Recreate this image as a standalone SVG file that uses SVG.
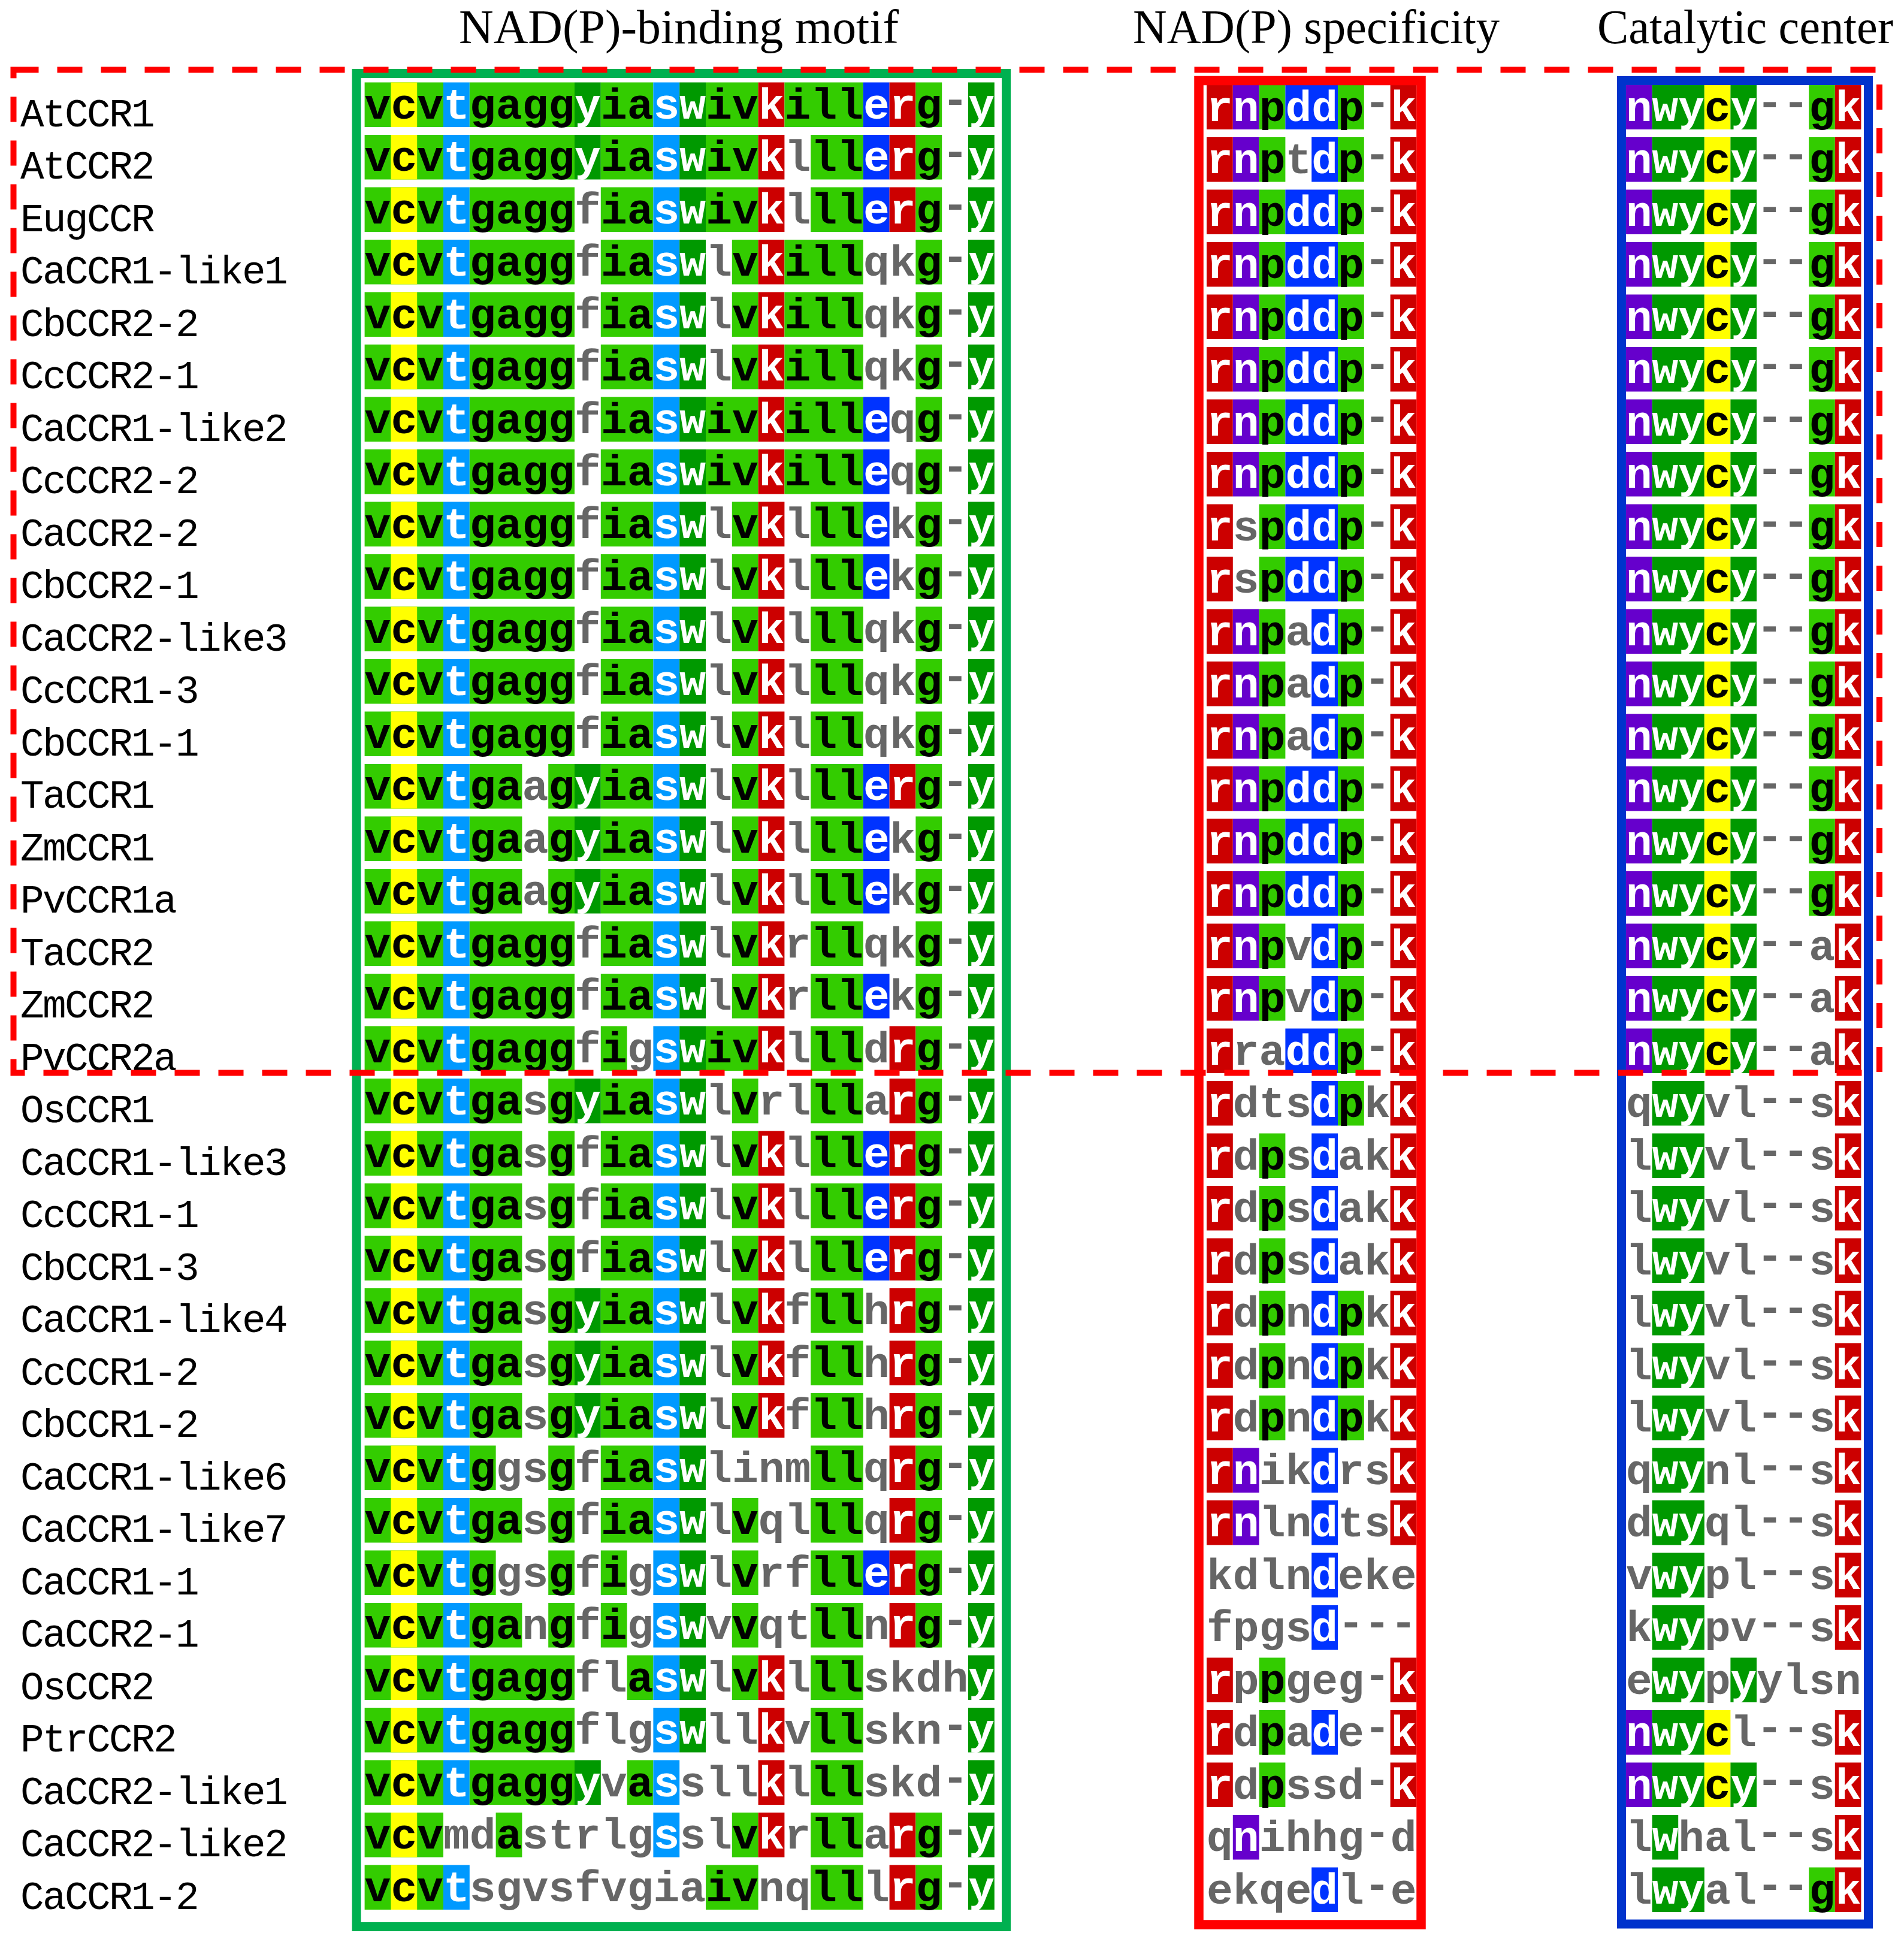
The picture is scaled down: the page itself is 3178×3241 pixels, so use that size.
<svg xmlns="http://www.w3.org/2000/svg" width="3178" height="3241" viewBox="0 0 3178 3241">
<style>
.L{fill:#33cc00}.D{fill:#009900}.Y{fill:#ffff00}.C{fill:#0099ff}.R{fill:#cc0000}.B{fill:#0033ff}.P{fill:#6600cc}
.s{font-family:"Liberation Mono",monospace;font-weight:bold;font-size:73px;fill:#666666}
.sb{font-family:"Liberation Mono",monospace;font-weight:bold;font-size:72.7px;fill:#666666}
.k{fill:#000000}.w{fill:#ffffff}.x{fill:#666666;baseline-shift:9px}
.nm{font-family:"Liberation Mono",monospace;font-size:66px;letter-spacing:-2.6px;fill:#000000}
.hd{font-family:"Liberation Serif",serif;font-size:80px;fill:#000000}
.box{fill:none}
</style>
<defs>
<!-- NAD(P)-binding motif patterns -->
<g id="g0"><g transform="scale(43.8,1)"><rect class="L" x="0" width="3" height="74.5"/><rect class="Y" x="1" width="1" height="74.5"/><rect class="C" x="3" width="1" height="74.5"/><rect class="L" x="4" width="4" height="74.5"/><rect class="D" x="8" width="1" height="74.5"/><rect class="L" x="9" width="2" height="74.5"/><rect class="C" x="11" width="1" height="74.5"/><rect class="D" x="12" width="1" height="74.5"/><rect class="L" x="13" width="2" height="74.5"/><rect class="R" x="15" width="1" height="74.5"/><rect class="L" x="16" width="3" height="74.5"/><rect class="B" x="19" width="1" height="74.5"/><rect class="R" x="20" width="1" height="74.5"/><rect class="L" x="21" width="1" height="74.5"/><rect class="D" x="23" width="1" height="74.5"/></g><text class="s" y="60"><tspan class="k">vcv</tspan><tspan class="w">t</tspan><tspan class="k">gagg</tspan><tspan class="w">y</tspan><tspan class="k">ia</tspan><tspan class="w">sw</tspan><tspan class="k">iv</tspan><tspan class="w">k</tspan><tspan class="k">ill</tspan><tspan class="w">er</tspan><tspan class="k">g</tspan><tspan class="x">-</tspan><tspan class="w">y</tspan></text></g>
<g id="g1"><g transform="scale(43.8,1)"><rect class="L" x="0" width="3" height="74.5"/><rect class="Y" x="1" width="1" height="74.5"/><rect class="C" x="3" width="1" height="74.5"/><rect class="L" x="4" width="4" height="74.5"/><rect class="D" x="8" width="1" height="74.5"/><rect class="L" x="9" width="2" height="74.5"/><rect class="C" x="11" width="1" height="74.5"/><rect class="D" x="12" width="1" height="74.5"/><rect class="L" x="13" width="2" height="74.5"/><rect class="R" x="15" width="1" height="74.5"/><rect class="L" x="17" width="2" height="74.5"/><rect class="B" x="19" width="1" height="74.5"/><rect class="R" x="20" width="1" height="74.5"/><rect class="L" x="21" width="1" height="74.5"/><rect class="D" x="23" width="1" height="74.5"/></g><text class="s" y="60"><tspan class="k">vcv</tspan><tspan class="w">t</tspan><tspan class="k">gagg</tspan><tspan class="w">y</tspan><tspan class="k">ia</tspan><tspan class="w">sw</tspan><tspan class="k">iv</tspan><tspan class="w">k</tspan>l<tspan class="k">ll</tspan><tspan class="w">er</tspan><tspan class="k">g</tspan><tspan class="x">-</tspan><tspan class="w">y</tspan></text></g>
<g id="g2"><g transform="scale(43.8,1)"><rect class="L" x="0" width="3" height="74.5"/><rect class="Y" x="1" width="1" height="74.5"/><rect class="C" x="3" width="1" height="74.5"/><rect class="L" x="4" width="4" height="74.5"/><rect class="L" x="9" width="2" height="74.5"/><rect class="C" x="11" width="1" height="74.5"/><rect class="D" x="12" width="1" height="74.5"/><rect class="L" x="13" width="2" height="74.5"/><rect class="R" x="15" width="1" height="74.5"/><rect class="L" x="17" width="2" height="74.5"/><rect class="B" x="19" width="1" height="74.5"/><rect class="R" x="20" width="1" height="74.5"/><rect class="L" x="21" width="1" height="74.5"/><rect class="D" x="23" width="1" height="74.5"/></g><text class="s" y="60"><tspan class="k">vcv</tspan><tspan class="w">t</tspan><tspan class="k">gagg</tspan>f<tspan class="k">ia</tspan><tspan class="w">sw</tspan><tspan class="k">iv</tspan><tspan class="w">k</tspan>l<tspan class="k">ll</tspan><tspan class="w">er</tspan><tspan class="k">g</tspan><tspan class="x">-</tspan><tspan class="w">y</tspan></text></g>
<g id="g3"><g transform="scale(43.8,1)"><rect class="L" x="0" width="3" height="74.5"/><rect class="Y" x="1" width="1" height="74.5"/><rect class="C" x="3" width="1" height="74.5"/><rect class="L" x="4" width="4" height="74.5"/><rect class="L" x="9" width="2" height="74.5"/><rect class="C" x="11" width="1" height="74.5"/><rect class="D" x="12" width="1" height="74.5"/><rect class="L" x="14" width="1" height="74.5"/><rect class="R" x="15" width="1" height="74.5"/><rect class="L" x="16" width="3" height="74.5"/><rect class="L" x="21" width="1" height="74.5"/><rect class="D" x="23" width="1" height="74.5"/></g><text class="s" y="60"><tspan class="k">vcv</tspan><tspan class="w">t</tspan><tspan class="k">gagg</tspan>f<tspan class="k">ia</tspan><tspan class="w">sw</tspan>l<tspan class="k">v</tspan><tspan class="w">k</tspan><tspan class="k">ill</tspan>qk<tspan class="k">g</tspan><tspan class="x">-</tspan><tspan class="w">y</tspan></text></g>
<g id="g6"><g transform="scale(43.8,1)"><rect class="L" x="0" width="3" height="74.5"/><rect class="Y" x="1" width="1" height="74.5"/><rect class="C" x="3" width="1" height="74.5"/><rect class="L" x="4" width="4" height="74.5"/><rect class="L" x="9" width="2" height="74.5"/><rect class="C" x="11" width="1" height="74.5"/><rect class="D" x="12" width="1" height="74.5"/><rect class="L" x="13" width="2" height="74.5"/><rect class="R" x="15" width="1" height="74.5"/><rect class="L" x="16" width="3" height="74.5"/><rect class="B" x="19" width="1" height="74.5"/><rect class="L" x="21" width="1" height="74.5"/><rect class="D" x="23" width="1" height="74.5"/></g><text class="s" y="60"><tspan class="k">vcv</tspan><tspan class="w">t</tspan><tspan class="k">gagg</tspan>f<tspan class="k">ia</tspan><tspan class="w">sw</tspan><tspan class="k">iv</tspan><tspan class="w">k</tspan><tspan class="k">ill</tspan><tspan class="w">e</tspan>q<tspan class="k">g</tspan><tspan class="x">-</tspan><tspan class="w">y</tspan></text></g>
<g id="g8"><g transform="scale(43.8,1)"><rect class="L" x="0" width="3" height="74.5"/><rect class="Y" x="1" width="1" height="74.5"/><rect class="C" x="3" width="1" height="74.5"/><rect class="L" x="4" width="4" height="74.5"/><rect class="L" x="9" width="2" height="74.5"/><rect class="C" x="11" width="1" height="74.5"/><rect class="D" x="12" width="1" height="74.5"/><rect class="L" x="14" width="1" height="74.5"/><rect class="R" x="15" width="1" height="74.5"/><rect class="L" x="17" width="2" height="74.5"/><rect class="B" x="19" width="1" height="74.5"/><rect class="L" x="21" width="1" height="74.5"/><rect class="D" x="23" width="1" height="74.5"/></g><text class="s" y="60"><tspan class="k">vcv</tspan><tspan class="w">t</tspan><tspan class="k">gagg</tspan>f<tspan class="k">ia</tspan><tspan class="w">sw</tspan>l<tspan class="k">v</tspan><tspan class="w">k</tspan>l<tspan class="k">ll</tspan><tspan class="w">e</tspan>k<tspan class="k">g</tspan><tspan class="x">-</tspan><tspan class="w">y</tspan></text></g>
<g id="g10"><g transform="scale(43.8,1)"><rect class="L" x="0" width="3" height="74.5"/><rect class="Y" x="1" width="1" height="74.5"/><rect class="C" x="3" width="1" height="74.5"/><rect class="L" x="4" width="4" height="74.5"/><rect class="L" x="9" width="2" height="74.5"/><rect class="C" x="11" width="1" height="74.5"/><rect class="D" x="12" width="1" height="74.5"/><rect class="L" x="14" width="1" height="74.5"/><rect class="R" x="15" width="1" height="74.5"/><rect class="L" x="17" width="2" height="74.5"/><rect class="L" x="21" width="1" height="74.5"/><rect class="D" x="23" width="1" height="74.5"/></g><text class="s" y="60"><tspan class="k">vcv</tspan><tspan class="w">t</tspan><tspan class="k">gagg</tspan>f<tspan class="k">ia</tspan><tspan class="w">sw</tspan>l<tspan class="k">v</tspan><tspan class="w">k</tspan>l<tspan class="k">ll</tspan>qk<tspan class="k">g</tspan><tspan class="x">-</tspan><tspan class="w">y</tspan></text></g>
<g id="g13"><g transform="scale(43.8,1)"><rect class="L" x="0" width="3" height="74.5"/><rect class="Y" x="1" width="1" height="74.5"/><rect class="C" x="3" width="1" height="74.5"/><rect class="L" x="4" width="2" height="74.5"/><rect class="L" x="7" width="1" height="74.5"/><rect class="D" x="8" width="1" height="74.5"/><rect class="L" x="9" width="2" height="74.5"/><rect class="C" x="11" width="1" height="74.5"/><rect class="D" x="12" width="1" height="74.5"/><rect class="L" x="14" width="1" height="74.5"/><rect class="R" x="15" width="1" height="74.5"/><rect class="L" x="17" width="2" height="74.5"/><rect class="B" x="19" width="1" height="74.5"/><rect class="R" x="20" width="1" height="74.5"/><rect class="L" x="21" width="1" height="74.5"/><rect class="D" x="23" width="1" height="74.5"/></g><text class="s" y="60"><tspan class="k">vcv</tspan><tspan class="w">t</tspan><tspan class="k">ga</tspan>a<tspan class="k">g</tspan><tspan class="w">y</tspan><tspan class="k">ia</tspan><tspan class="w">sw</tspan>l<tspan class="k">v</tspan><tspan class="w">k</tspan>l<tspan class="k">ll</tspan><tspan class="w">er</tspan><tspan class="k">g</tspan><tspan class="x">-</tspan><tspan class="w">y</tspan></text></g>
<g id="g14"><g transform="scale(43.8,1)"><rect class="L" x="0" width="3" height="74.5"/><rect class="Y" x="1" width="1" height="74.5"/><rect class="C" x="3" width="1" height="74.5"/><rect class="L" x="4" width="2" height="74.5"/><rect class="L" x="7" width="1" height="74.5"/><rect class="D" x="8" width="1" height="74.5"/><rect class="L" x="9" width="2" height="74.5"/><rect class="C" x="11" width="1" height="74.5"/><rect class="D" x="12" width="1" height="74.5"/><rect class="L" x="14" width="1" height="74.5"/><rect class="R" x="15" width="1" height="74.5"/><rect class="L" x="17" width="2" height="74.5"/><rect class="B" x="19" width="1" height="74.5"/><rect class="L" x="21" width="1" height="74.5"/><rect class="D" x="23" width="1" height="74.5"/></g><text class="s" y="60"><tspan class="k">vcv</tspan><tspan class="w">t</tspan><tspan class="k">ga</tspan>a<tspan class="k">g</tspan><tspan class="w">y</tspan><tspan class="k">ia</tspan><tspan class="w">sw</tspan>l<tspan class="k">v</tspan><tspan class="w">k</tspan>l<tspan class="k">ll</tspan><tspan class="w">e</tspan>k<tspan class="k">g</tspan><tspan class="x">-</tspan><tspan class="w">y</tspan></text></g>
<g id="g16"><g transform="scale(43.8,1)"><rect class="L" x="0" width="3" height="74.5"/><rect class="Y" x="1" width="1" height="74.5"/><rect class="C" x="3" width="1" height="74.5"/><rect class="L" x="4" width="4" height="74.5"/><rect class="L" x="9" width="2" height="74.5"/><rect class="C" x="11" width="1" height="74.5"/><rect class="D" x="12" width="1" height="74.5"/><rect class="L" x="14" width="1" height="74.5"/><rect class="R" x="15" width="1" height="74.5"/><rect class="L" x="17" width="2" height="74.5"/><rect class="L" x="21" width="1" height="74.5"/><rect class="D" x="23" width="1" height="74.5"/></g><text class="s" y="60"><tspan class="k">vcv</tspan><tspan class="w">t</tspan><tspan class="k">gagg</tspan>f<tspan class="k">ia</tspan><tspan class="w">sw</tspan>l<tspan class="k">v</tspan><tspan class="w">k</tspan>r<tspan class="k">ll</tspan>qk<tspan class="k">g</tspan><tspan class="x">-</tspan><tspan class="w">y</tspan></text></g>
<g id="g17"><g transform="scale(43.8,1)"><rect class="L" x="0" width="3" height="74.5"/><rect class="Y" x="1" width="1" height="74.5"/><rect class="C" x="3" width="1" height="74.5"/><rect class="L" x="4" width="4" height="74.5"/><rect class="L" x="9" width="2" height="74.5"/><rect class="C" x="11" width="1" height="74.5"/><rect class="D" x="12" width="1" height="74.5"/><rect class="L" x="14" width="1" height="74.5"/><rect class="R" x="15" width="1" height="74.5"/><rect class="L" x="17" width="2" height="74.5"/><rect class="B" x="19" width="1" height="74.5"/><rect class="L" x="21" width="1" height="74.5"/><rect class="D" x="23" width="1" height="74.5"/></g><text class="s" y="60"><tspan class="k">vcv</tspan><tspan class="w">t</tspan><tspan class="k">gagg</tspan>f<tspan class="k">ia</tspan><tspan class="w">sw</tspan>l<tspan class="k">v</tspan><tspan class="w">k</tspan>r<tspan class="k">ll</tspan><tspan class="w">e</tspan>k<tspan class="k">g</tspan><tspan class="x">-</tspan><tspan class="w">y</tspan></text></g>
<g id="g18"><g transform="scale(43.8,1)"><rect class="L" x="0" width="3" height="74.5"/><rect class="Y" x="1" width="1" height="74.5"/><rect class="C" x="3" width="1" height="74.5"/><rect class="L" x="4" width="4" height="74.5"/><rect class="L" x="9" width="1" height="74.5"/><rect class="C" x="11" width="1" height="74.5"/><rect class="D" x="12" width="1" height="74.5"/><rect class="L" x="13" width="2" height="74.5"/><rect class="R" x="15" width="1" height="74.5"/><rect class="L" x="17" width="2" height="74.5"/><rect class="R" x="20" width="1" height="74.5"/><rect class="L" x="21" width="1" height="74.5"/><rect class="D" x="23" width="1" height="74.5"/></g><text class="s" y="60"><tspan class="k">vcv</tspan><tspan class="w">t</tspan><tspan class="k">gagg</tspan>f<tspan class="k">i</tspan>g<tspan class="w">sw</tspan><tspan class="k">iv</tspan><tspan class="w">k</tspan>l<tspan class="k">ll</tspan>d<tspan class="w">r</tspan><tspan class="k">g</tspan><tspan class="x">-</tspan><tspan class="w">y</tspan></text></g>
<g id="g19"><g transform="scale(43.8,1)"><rect class="L" x="0" width="3" height="74.5"/><rect class="Y" x="1" width="1" height="74.5"/><rect class="C" x="3" width="1" height="74.5"/><rect class="L" x="4" width="2" height="74.5"/><rect class="L" x="7" width="1" height="74.5"/><rect class="D" x="8" width="1" height="74.5"/><rect class="L" x="9" width="2" height="74.5"/><rect class="C" x="11" width="1" height="74.5"/><rect class="D" x="12" width="1" height="74.5"/><rect class="L" x="14" width="1" height="74.5"/><rect class="L" x="17" width="2" height="74.5"/><rect class="R" x="20" width="1" height="74.5"/><rect class="L" x="21" width="1" height="74.5"/><rect class="D" x="23" width="1" height="74.5"/></g><text class="s" y="60"><tspan class="k">vcv</tspan><tspan class="w">t</tspan><tspan class="k">ga</tspan>s<tspan class="k">g</tspan><tspan class="w">y</tspan><tspan class="k">ia</tspan><tspan class="w">sw</tspan>l<tspan class="k">v</tspan>rl<tspan class="k">ll</tspan>a<tspan class="w">r</tspan><tspan class="k">g</tspan><tspan class="x">-</tspan><tspan class="w">y</tspan></text></g>
<g id="g20"><g transform="scale(43.8,1)"><rect class="L" x="0" width="3" height="74.5"/><rect class="Y" x="1" width="1" height="74.5"/><rect class="C" x="3" width="1" height="74.5"/><rect class="L" x="4" width="2" height="74.5"/><rect class="L" x="7" width="1" height="74.5"/><rect class="L" x="9" width="2" height="74.5"/><rect class="C" x="11" width="1" height="74.5"/><rect class="D" x="12" width="1" height="74.5"/><rect class="L" x="14" width="1" height="74.5"/><rect class="R" x="15" width="1" height="74.5"/><rect class="L" x="17" width="2" height="74.5"/><rect class="B" x="19" width="1" height="74.5"/><rect class="R" x="20" width="1" height="74.5"/><rect class="L" x="21" width="1" height="74.5"/><rect class="D" x="23" width="1" height="74.5"/></g><text class="s" y="60"><tspan class="k">vcv</tspan><tspan class="w">t</tspan><tspan class="k">ga</tspan>s<tspan class="k">g</tspan>f<tspan class="k">ia</tspan><tspan class="w">sw</tspan>l<tspan class="k">v</tspan><tspan class="w">k</tspan>l<tspan class="k">ll</tspan><tspan class="w">er</tspan><tspan class="k">g</tspan><tspan class="x">-</tspan><tspan class="w">y</tspan></text></g>
<g id="g23"><g transform="scale(43.8,1)"><rect class="L" x="0" width="3" height="74.5"/><rect class="Y" x="1" width="1" height="74.5"/><rect class="C" x="3" width="1" height="74.5"/><rect class="L" x="4" width="2" height="74.5"/><rect class="L" x="7" width="1" height="74.5"/><rect class="D" x="8" width="1" height="74.5"/><rect class="L" x="9" width="2" height="74.5"/><rect class="C" x="11" width="1" height="74.5"/><rect class="D" x="12" width="1" height="74.5"/><rect class="L" x="14" width="1" height="74.5"/><rect class="R" x="15" width="1" height="74.5"/><rect class="L" x="17" width="2" height="74.5"/><rect class="R" x="20" width="1" height="74.5"/><rect class="L" x="21" width="1" height="74.5"/><rect class="D" x="23" width="1" height="74.5"/></g><text class="s" y="60"><tspan class="k">vcv</tspan><tspan class="w">t</tspan><tspan class="k">ga</tspan>s<tspan class="k">g</tspan><tspan class="w">y</tspan><tspan class="k">ia</tspan><tspan class="w">sw</tspan>l<tspan class="k">v</tspan><tspan class="w">k</tspan>f<tspan class="k">ll</tspan>h<tspan class="w">r</tspan><tspan class="k">g</tspan><tspan class="x">-</tspan><tspan class="w">y</tspan></text></g>
<g id="g26"><g transform="scale(43.8,1)"><rect class="L" x="0" width="3" height="74.5"/><rect class="Y" x="1" width="1" height="74.5"/><rect class="C" x="3" width="1" height="74.5"/><rect class="L" x="4" width="1" height="74.5"/><rect class="L" x="7" width="1" height="74.5"/><rect class="L" x="9" width="2" height="74.5"/><rect class="C" x="11" width="1" height="74.5"/><rect class="D" x="12" width="1" height="74.5"/><rect class="L" x="17" width="2" height="74.5"/><rect class="R" x="20" width="1" height="74.5"/><rect class="L" x="21" width="1" height="74.5"/><rect class="D" x="23" width="1" height="74.5"/></g><text class="s" y="60"><tspan class="k">vcv</tspan><tspan class="w">t</tspan><tspan class="k">g</tspan>gs<tspan class="k">g</tspan>f<tspan class="k">ia</tspan><tspan class="w">sw</tspan>linm<tspan class="k">ll</tspan>q<tspan class="w">r</tspan><tspan class="k">g</tspan><tspan class="x">-</tspan><tspan class="w">y</tspan></text></g>
<g id="g27"><g transform="scale(43.8,1)"><rect class="L" x="0" width="3" height="74.5"/><rect class="Y" x="1" width="1" height="74.5"/><rect class="C" x="3" width="1" height="74.5"/><rect class="L" x="4" width="2" height="74.5"/><rect class="L" x="7" width="1" height="74.5"/><rect class="L" x="9" width="2" height="74.5"/><rect class="C" x="11" width="1" height="74.5"/><rect class="D" x="12" width="1" height="74.5"/><rect class="L" x="14" width="1" height="74.5"/><rect class="L" x="17" width="2" height="74.5"/><rect class="R" x="20" width="1" height="74.5"/><rect class="L" x="21" width="1" height="74.5"/><rect class="D" x="23" width="1" height="74.5"/></g><text class="s" y="60"><tspan class="k">vcv</tspan><tspan class="w">t</tspan><tspan class="k">ga</tspan>s<tspan class="k">g</tspan>f<tspan class="k">ia</tspan><tspan class="w">sw</tspan>l<tspan class="k">v</tspan>ql<tspan class="k">ll</tspan>q<tspan class="w">r</tspan><tspan class="k">g</tspan><tspan class="x">-</tspan><tspan class="w">y</tspan></text></g>
<g id="g28"><g transform="scale(43.8,1)"><rect class="L" x="0" width="3" height="74.5"/><rect class="Y" x="1" width="1" height="74.5"/><rect class="C" x="3" width="1" height="74.5"/><rect class="L" x="4" width="1" height="74.5"/><rect class="L" x="7" width="1" height="74.5"/><rect class="L" x="9" width="1" height="74.5"/><rect class="C" x="11" width="1" height="74.5"/><rect class="D" x="12" width="1" height="74.5"/><rect class="L" x="14" width="1" height="74.5"/><rect class="L" x="17" width="2" height="74.5"/><rect class="B" x="19" width="1" height="74.5"/><rect class="R" x="20" width="1" height="74.5"/><rect class="L" x="21" width="1" height="74.5"/><rect class="D" x="23" width="1" height="74.5"/></g><text class="s" y="60"><tspan class="k">vcv</tspan><tspan class="w">t</tspan><tspan class="k">g</tspan>gs<tspan class="k">g</tspan>f<tspan class="k">i</tspan>g<tspan class="w">sw</tspan>l<tspan class="k">v</tspan>rf<tspan class="k">ll</tspan><tspan class="w">er</tspan><tspan class="k">g</tspan><tspan class="x">-</tspan><tspan class="w">y</tspan></text></g>
<g id="g29"><g transform="scale(43.8,1)"><rect class="L" x="0" width="3" height="74.5"/><rect class="Y" x="1" width="1" height="74.5"/><rect class="C" x="3" width="1" height="74.5"/><rect class="L" x="4" width="2" height="74.5"/><rect class="L" x="7" width="1" height="74.5"/><rect class="L" x="9" width="1" height="74.5"/><rect class="C" x="11" width="1" height="74.5"/><rect class="D" x="12" width="1" height="74.5"/><rect class="L" x="14" width="1" height="74.5"/><rect class="L" x="17" width="2" height="74.5"/><rect class="R" x="20" width="1" height="74.5"/><rect class="L" x="21" width="1" height="74.5"/><rect class="D" x="23" width="1" height="74.5"/></g><text class="s" y="60"><tspan class="k">vcv</tspan><tspan class="w">t</tspan><tspan class="k">ga</tspan>n<tspan class="k">g</tspan>f<tspan class="k">i</tspan>g<tspan class="w">sw</tspan>v<tspan class="k">v</tspan>qt<tspan class="k">ll</tspan>n<tspan class="w">r</tspan><tspan class="k">g</tspan><tspan class="x">-</tspan><tspan class="w">y</tspan></text></g>
<g id="g30"><g transform="scale(43.8,1)"><rect class="L" x="0" width="3" height="74.5"/><rect class="Y" x="1" width="1" height="74.5"/><rect class="C" x="3" width="1" height="74.5"/><rect class="L" x="4" width="4" height="74.5"/><rect class="L" x="10" width="1" height="74.5"/><rect class="C" x="11" width="1" height="74.5"/><rect class="D" x="12" width="1" height="74.5"/><rect class="L" x="14" width="1" height="74.5"/><rect class="R" x="15" width="1" height="74.5"/><rect class="L" x="17" width="2" height="74.5"/><rect class="D" x="23" width="1" height="74.5"/></g><text class="s" y="60"><tspan class="k">vcv</tspan><tspan class="w">t</tspan><tspan class="k">gagg</tspan>fl<tspan class="k">a</tspan><tspan class="w">sw</tspan>l<tspan class="k">v</tspan><tspan class="w">k</tspan>l<tspan class="k">ll</tspan>skdh<tspan class="w">y</tspan></text></g>
<g id="g31"><g transform="scale(43.8,1)"><rect class="L" x="0" width="3" height="74.5"/><rect class="Y" x="1" width="1" height="74.5"/><rect class="C" x="3" width="1" height="74.5"/><rect class="L" x="4" width="4" height="74.5"/><rect class="C" x="11" width="1" height="74.5"/><rect class="D" x="12" width="1" height="74.5"/><rect class="R" x="15" width="1" height="74.5"/><rect class="L" x="17" width="2" height="74.5"/><rect class="D" x="23" width="1" height="74.5"/></g><text class="s" y="60"><tspan class="k">vcv</tspan><tspan class="w">t</tspan><tspan class="k">gagg</tspan>flg<tspan class="w">sw</tspan>ll<tspan class="w">k</tspan>v<tspan class="k">ll</tspan>skn<tspan class="x">-</tspan><tspan class="w">y</tspan></text></g>
<g id="g32"><g transform="scale(43.8,1)"><rect class="L" x="0" width="3" height="74.5"/><rect class="Y" x="1" width="1" height="74.5"/><rect class="C" x="3" width="1" height="74.5"/><rect class="L" x="4" width="4" height="74.5"/><rect class="D" x="8" width="1" height="74.5"/><rect class="L" x="10" width="1" height="74.5"/><rect class="C" x="11" width="1" height="74.5"/><rect class="R" x="15" width="1" height="74.5"/><rect class="L" x="17" width="2" height="74.5"/><rect class="D" x="23" width="1" height="74.5"/></g><text class="s" y="60"><tspan class="k">vcv</tspan><tspan class="w">t</tspan><tspan class="k">gagg</tspan><tspan class="w">y</tspan>v<tspan class="k">a</tspan><tspan class="w">s</tspan>sll<tspan class="w">k</tspan>l<tspan class="k">ll</tspan>skd<tspan class="x">-</tspan><tspan class="w">y</tspan></text></g>
<g id="g33"><g transform="scale(43.8,1)"><rect class="L" x="0" width="3" height="74.5"/><rect class="Y" x="1" width="1" height="74.5"/><rect class="L" x="5" width="1" height="74.5"/><rect class="C" x="11" width="1" height="74.5"/><rect class="L" x="14" width="1" height="74.5"/><rect class="R" x="15" width="1" height="74.5"/><rect class="L" x="17" width="2" height="74.5"/><rect class="R" x="20" width="1" height="74.5"/><rect class="L" x="21" width="1" height="74.5"/><rect class="D" x="23" width="1" height="74.5"/></g><text class="s" y="60"><tspan class="k">vcv</tspan>md<tspan class="k">a</tspan>strlg<tspan class="w">s</tspan>sl<tspan class="k">v</tspan><tspan class="w">k</tspan>r<tspan class="k">ll</tspan>a<tspan class="w">r</tspan><tspan class="k">g</tspan><tspan class="x">-</tspan><tspan class="w">y</tspan></text></g>
<g id="g34"><g transform="scale(43.8,1)"><rect class="L" x="0" width="3" height="74.5"/><rect class="Y" x="1" width="1" height="74.5"/><rect class="C" x="3" width="1" height="74.5"/><rect class="L" x="13" width="2" height="74.5"/><rect class="L" x="17" width="2" height="74.5"/><rect class="R" x="20" width="1" height="74.5"/><rect class="L" x="21" width="1" height="74.5"/><rect class="D" x="23" width="1" height="74.5"/></g><text class="s" y="60"><tspan class="k">vcv</tspan><tspan class="w">t</tspan>sgvsfvgia<tspan class="k">iv</tspan>nq<tspan class="k">ll</tspan>l<tspan class="w">r</tspan><tspan class="k">g</tspan><tspan class="x">-</tspan><tspan class="w">y</tspan></text></g>
<!-- NAD(P) specificity patterns -->
<g id="r0"><g transform="scale(43.8,1)"><rect class="R" x="0" width="1" height="74.5"/><rect class="P" x="1" width="1" height="74.5"/><rect class="L" x="2" width="1" height="74.5"/><rect class="B" x="3" width="2" height="74.5"/><rect class="L" x="5" width="1" height="74.5"/><rect class="R" x="7" width="1" height="74.5"/></g><text class="s" y="60"><tspan class="w">rn</tspan><tspan class="k">p</tspan><tspan class="w">dd</tspan><tspan class="k">p</tspan><tspan class="x">-</tspan><tspan class="w">k</tspan></text></g>
<g id="r1"><g transform="scale(43.8,1)"><rect class="R" x="0" width="1" height="74.5"/><rect class="P" x="1" width="1" height="74.5"/><rect class="L" x="2" width="1" height="74.5"/><rect class="B" x="4" width="1" height="74.5"/><rect class="L" x="5" width="1" height="74.5"/><rect class="R" x="7" width="1" height="74.5"/></g><text class="s" y="60"><tspan class="w">rn</tspan><tspan class="k">p</tspan>t<tspan class="w">d</tspan><tspan class="k">p</tspan><tspan class="x">-</tspan><tspan class="w">k</tspan></text></g>
<g id="r8"><g transform="scale(43.8,1)"><rect class="R" x="0" width="1" height="74.5"/><rect class="L" x="2" width="1" height="74.5"/><rect class="B" x="3" width="2" height="74.5"/><rect class="L" x="5" width="1" height="74.5"/><rect class="R" x="7" width="1" height="74.5"/></g><text class="s" y="60"><tspan class="w">r</tspan>s<tspan class="k">p</tspan><tspan class="w">dd</tspan><tspan class="k">p</tspan><tspan class="x">-</tspan><tspan class="w">k</tspan></text></g>
<g id="r10"><g transform="scale(43.8,1)"><rect class="R" x="0" width="1" height="74.5"/><rect class="P" x="1" width="1" height="74.5"/><rect class="L" x="2" width="1" height="74.5"/><rect class="B" x="4" width="1" height="74.5"/><rect class="L" x="5" width="1" height="74.5"/><rect class="R" x="7" width="1" height="74.5"/></g><text class="s" y="60"><tspan class="w">rn</tspan><tspan class="k">p</tspan>a<tspan class="w">d</tspan><tspan class="k">p</tspan><tspan class="x">-</tspan><tspan class="w">k</tspan></text></g>
<g id="r16"><g transform="scale(43.8,1)"><rect class="R" x="0" width="1" height="74.5"/><rect class="P" x="1" width="1" height="74.5"/><rect class="L" x="2" width="1" height="74.5"/><rect class="B" x="4" width="1" height="74.5"/><rect class="L" x="5" width="1" height="74.5"/><rect class="R" x="7" width="1" height="74.5"/></g><text class="s" y="60"><tspan class="w">rn</tspan><tspan class="k">p</tspan>v<tspan class="w">d</tspan><tspan class="k">p</tspan><tspan class="x">-</tspan><tspan class="w">k</tspan></text></g>
<g id="r18"><g transform="scale(43.8,1)"><rect class="R" x="0" width="1" height="74.5"/><rect class="B" x="3" width="2" height="74.5"/><rect class="L" x="5" width="1" height="74.5"/><rect class="R" x="7" width="1" height="74.5"/></g><text class="s" y="60"><tspan class="w">r</tspan>ra<tspan class="w">dd</tspan><tspan class="k">p</tspan><tspan class="x">-</tspan><tspan class="w">k</tspan></text></g>
<g id="r19"><g transform="scale(43.8,1)"><rect class="R" x="0" width="1" height="74.5"/><rect class="B" x="4" width="1" height="74.5"/><rect class="L" x="5" width="1" height="74.5"/><rect class="R" x="7" width="1" height="74.5"/></g><text class="s" y="60"><tspan class="w">r</tspan>dts<tspan class="w">d</tspan><tspan class="k">p</tspan>k<tspan class="w">k</tspan></text></g>
<g id="r20"><g transform="scale(43.8,1)"><rect class="R" x="0" width="1" height="74.5"/><rect class="L" x="2" width="1" height="74.5"/><rect class="B" x="4" width="1" height="74.5"/><rect class="R" x="7" width="1" height="74.5"/></g><text class="s" y="60"><tspan class="w">r</tspan>d<tspan class="k">p</tspan>s<tspan class="w">d</tspan>ak<tspan class="w">k</tspan></text></g>
<g id="r23"><g transform="scale(43.8,1)"><rect class="R" x="0" width="1" height="74.5"/><rect class="L" x="2" width="1" height="74.5"/><rect class="B" x="4" width="1" height="74.5"/><rect class="L" x="5" width="1" height="74.5"/><rect class="R" x="7" width="1" height="74.5"/></g><text class="s" y="60"><tspan class="w">r</tspan>d<tspan class="k">p</tspan>n<tspan class="w">d</tspan><tspan class="k">p</tspan>k<tspan class="w">k</tspan></text></g>
<g id="r26"><g transform="scale(43.8,1)"><rect class="R" x="0" width="1" height="74.5"/><rect class="P" x="1" width="1" height="74.5"/><rect class="B" x="4" width="1" height="74.5"/><rect class="R" x="7" width="1" height="74.5"/></g><text class="s" y="60"><tspan class="w">rn</tspan>ik<tspan class="w">d</tspan>rs<tspan class="w">k</tspan></text></g>
<g id="r27"><g transform="scale(43.8,1)"><rect class="R" x="0" width="1" height="74.5"/><rect class="P" x="1" width="1" height="74.5"/><rect class="B" x="4" width="1" height="74.5"/><rect class="R" x="7" width="1" height="74.5"/></g><text class="s" y="60"><tspan class="w">rn</tspan>ln<tspan class="w">d</tspan>ts<tspan class="w">k</tspan></text></g>
<g id="r28"><rect class="B" x="175.2" width="43.8" height="74.5"/><text class="s" y="60">kdln<tspan class="w">d</tspan>eke</text></g>
<g id="r29"><rect class="B" x="175.2" width="43.8" height="74.5"/><text class="s" y="60">fpgs<tspan class="w">d</tspan><tspan class="x">---</tspan></text></g>
<g id="r30"><g transform="scale(43.8,1)"><rect class="R" x="0" width="1" height="74.5"/><rect class="L" x="2" width="1" height="74.5"/><rect class="R" x="7" width="1" height="74.5"/></g><text class="s" y="60"><tspan class="w">r</tspan>p<tspan class="k">p</tspan>geg<tspan class="x">-</tspan><tspan class="w">k</tspan></text></g>
<g id="r31"><g transform="scale(43.8,1)"><rect class="R" x="0" width="1" height="74.5"/><rect class="L" x="2" width="1" height="74.5"/><rect class="B" x="4" width="1" height="74.5"/><rect class="R" x="7" width="1" height="74.5"/></g><text class="s" y="60"><tspan class="w">r</tspan>d<tspan class="k">p</tspan>a<tspan class="w">d</tspan>e<tspan class="x">-</tspan><tspan class="w">k</tspan></text></g>
<g id="r32"><g transform="scale(43.8,1)"><rect class="R" x="0" width="1" height="74.5"/><rect class="L" x="2" width="1" height="74.5"/><rect class="R" x="7" width="1" height="74.5"/></g><text class="s" y="60"><tspan class="w">r</tspan>d<tspan class="k">p</tspan>ssd<tspan class="x">-</tspan><tspan class="w">k</tspan></text></g>
<g id="r33"><rect class="P" x="43.8" width="43.8" height="74.5"/><text class="s" y="60">q<tspan class="w">n</tspan>ihhg<tspan class="x">-</tspan>d</text></g>
<g id="r34"><rect class="B" x="175.2" width="43.8" height="74.5"/><text class="s" y="60">ekqe<tspan class="w">d</tspan>l<tspan class="x">-</tspan>e</text></g>
<!-- Catalytic center patterns -->
<g id="b0"><g transform="scale(43.6,1)"><rect class="P" x="0" width="1" height="74.5"/><rect class="D" x="1" width="2" height="74.5"/><rect class="Y" x="3" width="1" height="74.5"/><rect class="D" x="4" width="1" height="74.5"/><rect class="L" x="7" width="1" height="74.5"/><rect class="R" x="8" width="1" height="74.5"/></g><text class="sb" y="60"><tspan class="w">nwy</tspan><tspan class="k">c</tspan><tspan class="w">y</tspan><tspan class="x">--</tspan><tspan class="k">g</tspan><tspan class="w">k</tspan></text></g>
<g id="b16"><g transform="scale(43.6,1)"><rect class="P" x="0" width="1" height="74.5"/><rect class="D" x="1" width="2" height="74.5"/><rect class="Y" x="3" width="1" height="74.5"/><rect class="D" x="4" width="1" height="74.5"/><rect class="R" x="8" width="1" height="74.5"/></g><text class="sb" y="60"><tspan class="w">nwy</tspan><tspan class="k">c</tspan><tspan class="w">y</tspan><tspan class="x">--</tspan>a<tspan class="w">k</tspan></text></g>
<g id="b19"><g transform="scale(43.6,1)"><rect class="D" x="1" width="2" height="74.5"/><rect class="R" x="8" width="1" height="74.5"/></g><text class="sb" y="60">q<tspan class="w">wy</tspan>vl<tspan class="x">--</tspan>s<tspan class="w">k</tspan></text></g>
<g id="b20"><g transform="scale(43.6,1)"><rect class="D" x="1" width="2" height="74.5"/><rect class="R" x="8" width="1" height="74.5"/></g><text class="sb" y="60">l<tspan class="w">wy</tspan>vl<tspan class="x">--</tspan>s<tspan class="w">k</tspan></text></g>
<g id="b26"><g transform="scale(43.6,1)"><rect class="D" x="1" width="2" height="74.5"/><rect class="R" x="8" width="1" height="74.5"/></g><text class="sb" y="60">q<tspan class="w">wy</tspan>nl<tspan class="x">--</tspan>s<tspan class="w">k</tspan></text></g>
<g id="b27"><g transform="scale(43.6,1)"><rect class="D" x="1" width="2" height="74.5"/><rect class="R" x="8" width="1" height="74.5"/></g><text class="sb" y="60">d<tspan class="w">wy</tspan>ql<tspan class="x">--</tspan>s<tspan class="w">k</tspan></text></g>
<g id="b28"><g transform="scale(43.6,1)"><rect class="D" x="1" width="2" height="74.5"/><rect class="R" x="8" width="1" height="74.5"/></g><text class="sb" y="60">v<tspan class="w">wy</tspan>pl<tspan class="x">--</tspan>s<tspan class="w">k</tspan></text></g>
<g id="b29"><g transform="scale(43.6,1)"><rect class="D" x="1" width="2" height="74.5"/><rect class="R" x="8" width="1" height="74.5"/></g><text class="sb" y="60">k<tspan class="w">wy</tspan>pv<tspan class="x">--</tspan>s<tspan class="w">k</tspan></text></g>
<g id="b30"><g transform="scale(43.6,1)"><rect class="D" x="1" width="2" height="74.5"/><rect class="D" x="4" width="1" height="74.5"/></g><text class="sb" y="60">e<tspan class="w">wy</tspan>p<tspan class="w">y</tspan>ylsn</text></g>
<g id="b31"><g transform="scale(43.6,1)"><rect class="P" x="0" width="1" height="74.5"/><rect class="D" x="1" width="2" height="74.5"/><rect class="Y" x="3" width="1" height="74.5"/><rect class="R" x="8" width="1" height="74.5"/></g><text class="sb" y="60"><tspan class="w">nwy</tspan><tspan class="k">c</tspan>l<tspan class="x">--</tspan>s<tspan class="w">k</tspan></text></g>
<g id="b32"><g transform="scale(43.6,1)"><rect class="P" x="0" width="1" height="74.5"/><rect class="D" x="1" width="2" height="74.5"/><rect class="Y" x="3" width="1" height="74.5"/><rect class="D" x="4" width="1" height="74.5"/><rect class="R" x="8" width="1" height="74.5"/></g><text class="sb" y="60"><tspan class="w">nwy</tspan><tspan class="k">c</tspan><tspan class="w">y</tspan><tspan class="x">--</tspan>s<tspan class="w">k</tspan></text></g>
<g id="b33"><g transform="scale(43.6,1)"><rect class="D" x="1" width="1" height="74.5"/><rect class="R" x="8" width="1" height="74.5"/></g><text class="sb" y="60">l<tspan class="w">w</tspan>hal<tspan class="x">--</tspan>s<tspan class="w">k</tspan></text></g>
<g id="b34"><g transform="scale(43.6,1)"><rect class="D" x="1" width="2" height="74.5"/><rect class="L" x="7" width="1" height="74.5"/><rect class="R" x="8" width="1" height="74.5"/></g><text class="sb" y="60">l<tspan class="w">wy</tspan>al<tspan class="x">--</tspan><tspan class="k">g</tspan><tspan class="w">k</tspan></text></g>
</defs>

<g id="headers">
<text class="hd" x="766" y="72" textLength="734" lengthAdjust="spacingAndGlyphs">NAD(P)-binding motif</text>
<text class="hd" x="1891" y="72" textLength="612" lengthAdjust="spacingAndGlyphs">NAD(P) specificity</text>
<text class="hd" x="2666" y="72" textLength="494" lengthAdjust="spacingAndGlyphs">Catalytic center</text>
</g>

<g id="rows">
<g id="row-AtCCR1"><text class="nm" x="34" y="210.5">AtCCR1</text><use href="#g0" x="608.6" y="137.5"/><use href="#r0" x="2014" y="141.5"/><use href="#b0" x="2714" y="141.5"/></g>
<g id="row-AtCCR2"><text class="nm" x="34" y="298">AtCCR2</text><use href="#g1" x="608.6" y="225"/><use href="#r1" x="2014" y="229"/><use href="#b0" x="2714" y="229"/></g>
<g id="row-EugCCR"><text class="nm" x="34" y="385.5">EugCCR</text><use href="#g2" x="608.6" y="312.5"/><use href="#r0" x="2014" y="316.5"/><use href="#b0" x="2714" y="316.5"/></g>
<g id="row-CaCCR1-like1"><text class="nm" x="34" y="473">CaCCR1-like1</text><use href="#g3" x="608.6" y="400"/><use href="#r0" x="2014" y="404"/><use href="#b0" x="2714" y="404"/></g>
<g id="row-CbCCR2-2"><text class="nm" x="34" y="560.5">CbCCR2-2</text><use href="#g3" x="608.6" y="487.5"/><use href="#r0" x="2014" y="491.5"/><use href="#b0" x="2714" y="491.5"/></g>
<g id="row-CcCCR2-1"><text class="nm" x="34" y="648">CcCCR2-1</text><use href="#g3" x="608.6" y="575"/><use href="#r0" x="2014" y="579"/><use href="#b0" x="2714" y="579"/></g>
<g id="row-CaCCR1-like2"><text class="nm" x="34" y="735.5">CaCCR1-like2</text><use href="#g6" x="608.6" y="662.5"/><use href="#r0" x="2014" y="666.5"/><use href="#b0" x="2714" y="666.5"/></g>
<g id="row-CcCCR2-2"><text class="nm" x="34" y="823">CcCCR2-2</text><use href="#g6" x="608.6" y="750"/><use href="#r0" x="2014" y="754"/><use href="#b0" x="2714" y="754"/></g>
<g id="row-CaCCR2-2"><text class="nm" x="34" y="910.5">CaCCR2-2</text><use href="#g8" x="608.6" y="837.5"/><use href="#r8" x="2014" y="841.5"/><use href="#b0" x="2714" y="841.5"/></g>
<g id="row-CbCCR2-1"><text class="nm" x="34" y="998">CbCCR2-1</text><use href="#g8" x="608.6" y="925"/><use href="#r8" x="2014" y="929"/><use href="#b0" x="2714" y="929"/></g>
<g id="row-CaCCR2-like3"><text class="nm" x="34" y="1085.5">CaCCR2-like3</text><use href="#g10" x="608.6" y="1012.5"/><use href="#r10" x="2014" y="1016.5"/><use href="#b0" x="2714" y="1016.5"/></g>
<g id="row-CcCCR1-3"><text class="nm" x="34" y="1173">CcCCR1-3</text><use href="#g10" x="608.6" y="1100"/><use href="#r10" x="2014" y="1104"/><use href="#b0" x="2714" y="1104"/></g>
<g id="row-CbCCR1-1"><text class="nm" x="34" y="1260.5">CbCCR1-1</text><use href="#g10" x="608.6" y="1187.5"/><use href="#r10" x="2014" y="1191.5"/><use href="#b0" x="2714" y="1191.5"/></g>
<g id="row-TaCCR1"><text class="nm" x="34" y="1348">TaCCR1</text><use href="#g13" x="608.6" y="1275"/><use href="#r0" x="2014" y="1279"/><use href="#b0" x="2714" y="1279"/></g>
<g id="row-ZmCCR1"><text class="nm" x="34" y="1435.5">ZmCCR1</text><use href="#g14" x="608.6" y="1362.5"/><use href="#r0" x="2014" y="1366.5"/><use href="#b0" x="2714" y="1366.5"/></g>
<g id="row-PvCCR1a"><text class="nm" x="34" y="1523">PvCCR1a</text><use href="#g14" x="608.6" y="1450"/><use href="#r0" x="2014" y="1454"/><use href="#b0" x="2714" y="1454"/></g>
<g id="row-TaCCR2"><text class="nm" x="34" y="1610.5">TaCCR2</text><use href="#g16" x="608.6" y="1537.5"/><use href="#r16" x="2014" y="1541.5"/><use href="#b16" x="2714" y="1541.5"/></g>
<g id="row-ZmCCR2"><text class="nm" x="34" y="1698">ZmCCR2</text><use href="#g17" x="608.6" y="1625"/><use href="#r16" x="2014" y="1629"/><use href="#b16" x="2714" y="1629"/></g>
<g id="row-PvCCR2a"><text class="nm" x="34" y="1785.5">PvCCR2a</text><use href="#g18" x="608.6" y="1712.5"/><use href="#r18" x="2014" y="1716.5"/><use href="#b16" x="2714" y="1716.5"/></g>
<g id="row-OsCCR1"><text class="nm" x="34" y="1873">OsCCR1</text><use href="#g19" x="608.6" y="1800"/><use href="#r19" x="2014" y="1804"/><use href="#b19" x="2714" y="1804"/></g>
<g id="row-CaCCR1-like3"><text class="nm" x="34" y="1960.5">CaCCR1-like3</text><use href="#g20" x="608.6" y="1887.5"/><use href="#r20" x="2014" y="1891.5"/><use href="#b20" x="2714" y="1891.5"/></g>
<g id="row-CcCCR1-1"><text class="nm" x="34" y="2048">CcCCR1-1</text><use href="#g20" x="608.6" y="1975"/><use href="#r20" x="2014" y="1979"/><use href="#b20" x="2714" y="1979"/></g>
<g id="row-CbCCR1-3"><text class="nm" x="34" y="2135.5">CbCCR1-3</text><use href="#g20" x="608.6" y="2062.5"/><use href="#r20" x="2014" y="2066.5"/><use href="#b20" x="2714" y="2066.5"/></g>
<g id="row-CaCCR1-like4"><text class="nm" x="34" y="2223">CaCCR1-like4</text><use href="#g23" x="608.6" y="2150"/><use href="#r23" x="2014" y="2154"/><use href="#b20" x="2714" y="2154"/></g>
<g id="row-CcCCR1-2"><text class="nm" x="34" y="2310.5">CcCCR1-2</text><use href="#g23" x="608.6" y="2237.5"/><use href="#r23" x="2014" y="2241.5"/><use href="#b20" x="2714" y="2241.5"/></g>
<g id="row-CbCCR1-2"><text class="nm" x="34" y="2398">CbCCR1-2</text><use href="#g23" x="608.6" y="2325"/><use href="#r23" x="2014" y="2329"/><use href="#b20" x="2714" y="2329"/></g>
<g id="row-CaCCR1-like6"><text class="nm" x="34" y="2485.5">CaCCR1-like6</text><use href="#g26" x="608.6" y="2412.5"/><use href="#r26" x="2014" y="2416.5"/><use href="#b26" x="2714" y="2416.5"/></g>
<g id="row-CaCCR1-like7"><text class="nm" x="34" y="2573">CaCCR1-like7</text><use href="#g27" x="608.6" y="2500"/><use href="#r27" x="2014" y="2504"/><use href="#b27" x="2714" y="2504"/></g>
<g id="row-CaCCR1-1"><text class="nm" x="34" y="2660.5">CaCCR1-1</text><use href="#g28" x="608.6" y="2587.5"/><use href="#r28" x="2014" y="2591.5"/><use href="#b28" x="2714" y="2591.5"/></g>
<g id="row-CaCCR2-1"><text class="nm" x="34" y="2748">CaCCR2-1</text><use href="#g29" x="608.6" y="2675"/><use href="#r29" x="2014" y="2679"/><use href="#b29" x="2714" y="2679"/></g>
<g id="row-OsCCR2"><text class="nm" x="34" y="2835.5">OsCCR2</text><use href="#g30" x="608.6" y="2762.5"/><use href="#r30" x="2014" y="2766.5"/><use href="#b30" x="2714" y="2766.5"/></g>
<g id="row-PtrCCR2"><text class="nm" x="34" y="2923">PtrCCR2</text><use href="#g31" x="608.6" y="2850"/><use href="#r31" x="2014" y="2854"/><use href="#b31" x="2714" y="2854"/></g>
<g id="row-CaCCR2-like1"><text class="nm" x="34" y="3010.5">CaCCR2-like1</text><use href="#g32" x="608.6" y="2937.5"/><use href="#r32" x="2014" y="2941.5"/><use href="#b32" x="2714" y="2941.5"/></g>
<g id="row-CaCCR2-like2"><text class="nm" x="34" y="3098">CaCCR2-like2</text><use href="#g33" x="608.6" y="3025"/><use href="#r33" x="2014" y="3029"/><use href="#b33" x="2714" y="3029"/></g>
<g id="row-CaCCR1-2"><text class="nm" x="34" y="3185.5">CaCCR1-2</text><use href="#g34" x="608.6" y="3112.5"/><use href="#r34" x="2014" y="3116.5"/><use href="#b34" x="2714" y="3116.5"/></g>
</g>

<g id="boxes">
<rect id="box-binding" class="box" x="595" y="122.5" width="1084.5" height="3093" stroke="#00b050" stroke-width="15"/>
<rect id="box-specificity" class="box" x="2001" y="134.5" width="371" height="3077.5" stroke="#ff0000" stroke-width="15.5"/>
<rect id="box-catalytic" class="box" x="2706.5" y="134.5" width="412" height="3076.5" stroke="#0033cc" stroke-width="15"/>
<rect id="group-dashed" class="box" x="22.5" y="116.5" width="3114.5" height="1674" stroke="#ff0000" stroke-width="10" stroke-dasharray="42 31"/>
</g>
</svg>
